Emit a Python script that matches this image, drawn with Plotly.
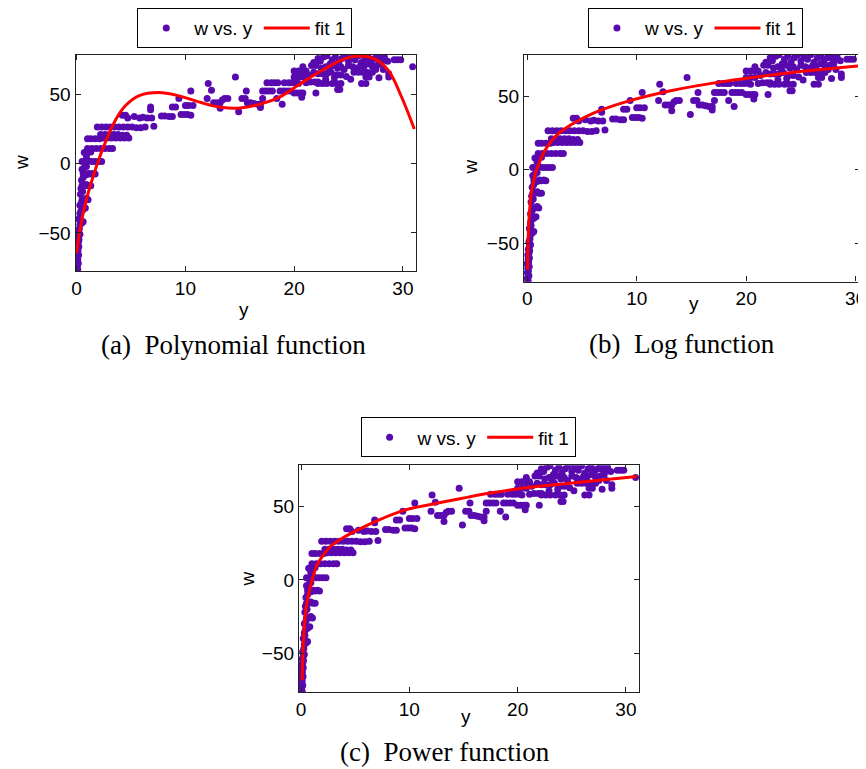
import plotly.graph_objects as go

# ---------------- data ----------------
# observations: (y, w) pairs, grouped by region of the scatter
pts_stack = [
    (0.0, -77), (0.05, -77), (0.1, -76), (0.0, -74), (0.08, -73), (0.15, -72),
    (0.02, -70), (0.1, -69), (0.05, -67), (0.18, -66), (0.0, -64), (0.12, -63),
    (0.08, -61), (0.2, -60), (0.05, -58), (0.15, -57), (0.22, -55), (0.1, -54),
    (0.2, -52), (0.3, -51), (0.15, -49), (0.25, -47), (0.3, -44), (0.45, -43),
    (0.6, -42), (0.2, -40), (0.35, -38), (0.3, -36), (0.4, -34), (0.6, -33),
    (0.8, -32), (0.3, -30), (0.45, -28), (0.5, -26), (0.7, -26), (0.9, -25),
    (1.05, -26), (0.35, -22), (0.55, -20), (0.4, -18), (0.5, -16), (0.7, -16),
    (0.9, -15), (1.1, -16), (1.3, -16), (0.45, -12), (0.6, -10),
]
pts_rows = [
    (0.6, -7), (0.9, -8), (1.1, -7), (1.3, -7.5), (1.5, -7), (1.7, -7.5),
    (0.5, -4), (0.7, -3), (0.9, -2),
    (0.5, 1.5), (0.8, 1.5), (1.1, 2), (1.4, 1.5), (1.7, 1.5), (2.0, 1.5), (2.3, 1.5),
    (0.7, 8), (1.0, 8), (1.3, 8.5), (0.9, 5),
    (1.0, 11), (1.4, 11), (1.8, 11), (2.2, 11), (2.6, 11), (3.0, 11), (3.3, 11),
    (1.0, 18), (1.3, 18), (1.7, 18), (2.1, 18), (2.4, 18.5), (2.8, 18.5),
    (3.2, 18.5), (3.6, 18.5), (4.0, 18.5), (4.4, 18.5), (4.8, 18.5),
    (2.2, 21), (2.6, 21), (3.0, 21), (3.4, 21), (3.8, 21), (4.2, 20.5), (4.6, 20.5),
    (1.9, 26.5), (2.3, 26.5), (2.7, 26.5), (3.1, 26.5), (3.5, 26.5), (3.9, 26.5),
    (4.3, 26.5), (4.7, 26.5), (5.1, 26.5), (5.5, 26), (5.9, 26), (6.3, 26.5), (7.1, 27),
]
pts_mid = [
    (4.2, 35), (4.5, 35), (4.7, 33), (5.3, 34), (5.8, 33), (6.1, 33.5), (6.5, 33),
    (6.9, 33), (7.8, 34.5), (8.1, 34.5), (8.5, 34), (8.8, 34), (9.6, 35.5),
    (9.9, 35.5), (10.2, 35.5), (10.5, 35), (6.8, 41), (6.8, 39), (8.8, 41),
    (9.1, 41), (10.0, 42), (10.3, 42), (10.7, 42), (9.4, 47), (12.0, 47),
    (12.6, 44), (12.9, 44), (13.2, 44), (13.4, 46), (13.2, 40), (13.6, 47),
    (13.9, 47), (10.5, 52.5), (12.1, 58), (12.4, 53), (14.6, 62.6), (14.9, 37.5),
    (15.2, 47), (15.5, 47), (15.6, 52.5), (15.7, 44), (16.0, 44), (16.3, 43.5),
    (16.6, 43), (16.9, 43), (16.9, 40.5), (17.1, 47), (17.1, 52.5), (17.4, 52.5),
    (17.7, 52.5), (18.0, 52.5), (17.5, 58.5), (17.9, 58.5), (18.2, 58.5),
    (18.5, 58.5), (18.4, 47), (18.9, 43), (18.7, 52.5), (19.0, 52.5), (19.3, 52.5),
    (19.6, 52.5), (19.1, 58.5), (19.5, 58.5), (19.8, 58.5), (20.2, 58.5),
    (20.0, 51), (20.3, 51), (20.6, 51), (20.8, 51), (20.7, 48), (20.4, 58),
    (21.1, 58.5), (21.5, 59), (21.9, 59), (22.2, 59), (22.0, 51),
]
pts_high = [
    (20.0, 62.6), (20.4, 62.6), (20.8, 62.6), (20.0, 67), (20.4, 67), (20.8, 67),
    (21.1, 67), (20.8, 70), (21.6, 71), (22.0, 71), (22.2, 76), (21.3, 64), (21.8, 66),
    (22.4, 74), (22.7, 77), (23.0, 78), (23.3, 72), (23.5, 75), (23.8, 77),
    (24.1, 73), (24.4, 76), (24.7, 78), (25.0, 74), (25.3, 77), (25.6, 75),
    (25.9, 78), (26.2, 73), (26.5, 76), (26.8, 77), (27.1, 74), (27.4, 76),
    (27.7, 78), (28.0, 75), (28.3, 77), (28.6, 74), (22.5, 69), (22.9, 70),
    (23.2, 68), (23.6, 71), (24.0, 69), (24.3, 70), (24.6, 68), (25.0, 71),
    (25.4, 70), (25.8, 69), (26.1, 71), (26.4, 70), (26.8, 72), (27.2, 70),
    (27.6, 71), (28.0, 72), (22.2, 65), (22.6, 65), (23.0, 65), (23.4, 66),
    (23.9, 64), (24.3, 64), (25.5, 66), (25.9, 66), (26.3, 66), (26.7, 66),
    (27.2, 66), (28.7, 65), (28.7, 62.6), (26.6, 62.6), (26.9, 62.6), (22.2, 58),
    (22.6, 58), (23.0, 58), (23.5, 58), (23.9, 58), (24.3, 58), (26.2, 58),
    (26.6, 58), (24.0, 53.6), (24.2, 53.6), (29.2, 75), (29.5, 75), (29.8, 75),
    (30.9, 70), (27.9, 75), (28.3, 75), (24.8, 63), (25.2, 61), (27.5, 68),
    (28.2, 68), (22.9, 61), (21.8, 73), (23.7, 62), (27.8, 62),
]

obs = pts_stack + pts_rows + pts_mid + pts_high
obs_y = [p[0] for p in obs]
obs_w = [p[1] for p in obs]

# fitted curves
poly_fit_y = [0, 0.3, 0.9, 1.8, 2.7, 3.6, 4.5, 5.7, 7.55, 9.4, 11.5, 13.3, 15.0,
              16.9, 18.7, 20.5, 22.7, 24.5, 26.0, 27.5, 28.7, 29.9, 31.05]
poly_fit_w = [-64.6, -48, -26, -2.4, 16.7, 32, 42, 49, 51.4, 49, 44, 40.7, 40.2,
              43, 48.3, 57.4, 68, 75.4, 77.8, 75.4, 67, 47.8, 25]

log_fit_y = [0.03, 0.05, 0.08, 0.12, 0.2, 0.36, 0.5, 0.8, 1.2, 1.57, 2.7, 4, 6, 9,
             13, 18, 24, 31]
log_fit_w = [-67.9, -57.7, -48.3, -39.5, -29, -16.5, -11, -1, 6.5, 12.5, 23.5, 30.5,
             38.3, 46.1, 53.5, 60.0, 65.8, 70.9]

pow_fit_y = [0.1, 0.15, 0.2, 0.3, 0.45, 0.76, 1.1, 1.5, 2.0, 2.73, 3.8, 5.2, 7.2,
             9.7, 12.3, 14.9, 17.6, 20.4, 23.4, 26.4, 31]
pow_fit_w = [-68.5, -55, -45, -32, -20, -7.5, 2, 10.6, 16.5, 23, 28.5, 34, 41,
             48, 52, 55.8, 59.5, 62.6, 65, 67.2, 70.6]

tick_y = [0, 10, 20, 30]
tick_w = [-50, 0, 50]

captions = ["(a)\u00a0 Polynomial function", "(b)\u00a0 Log function", "(c)\u00a0 Power function"]

# ---------------- figure ----------------
# the page body adds an 8 px margin, so the figure is drawn 8 px smaller
OFF = 8
W, H = 866 - OFF, 769 - OFF
def fx(px):
    return (px - OFF) / W
def fy(py):
    return 1 - (py - OFF) / H

DOT = "rgb(88,10,175)"
SANS = "Liberation Sans, Arial, sans-serif"
SERIF = "Liberation Serif, Times New Roman, serif"

fig = go.Figure()

fits = [(poly_fit_y, poly_fit_w), (log_fit_y, log_fit_w), (pow_fit_y, pow_fit_w)]
legends = ["legend", "legend2", "legend3"]
for i in range(3):
    sfx = "" if i == 0 else str(i + 1)
    fig.add_trace(go.Scatter(
        x=obs_y, y=obs_w, mode="markers", name="w vs. y",
        marker=dict(color=DOT, size=7, line=dict(width=0)),
        xaxis="x" + sfx, yaxis="y" + sfx, legend=legends[i]))
    fig.add_trace(go.Scatter(
        x=fits[i][0], y=fits[i][1], mode="lines", name="fit 1",
        line=dict(color="rgb(255,0,0)", width=3, shape="spline", smoothing=1.0),
        xaxis="x" + sfx, yaxis="y" + sfx, legend=legends[i]))

# panel geometry (pixels in the 866x769 picture)
panels = [
    dict(x0=72.3, x1=416.7, y0=50, y1=267.7, xr=[-0.1, 31.2], yr=[-77.5, 78.7]),
    dict(x0=526.0, x1=866.0, y0=50, y1=278.3, xr=[-0.3, 30.4], yr=[-76.0, 78.1]),
    dict(x0=298.3, x1=642.3, y0=463.3, y1=691.7, xr=[-0.2, 31.2], yr=[-76.7, 78.3]),
]

axis_common = dict(
    showgrid=False, zeroline=False, showline=True, linecolor="#222", linewidth=1.2,
    mirror="ticks", ticks="inside", ticklen=5, tickcolor="#222", tickwidth=1,
    tickfont=dict(family=SANS, size=19, color="black"),
    ticklabeloverflow="allow",
)

for i, p in enumerate(panels):
    sfx = "" if i == 0 else str(i + 1)
    fig.update_layout(**{
        "xaxis" + sfx: dict(axis_common, domain=[fx(p["x0"]), min(1.0, fx(p["x1"]))],
                            range=p["xr"], tickvals=tick_y,
                            anchor="y" + sfx),
        "yaxis" + sfx: dict(axis_common, domain=[fy(p["y1"]), fy(p["y0"])],
                            range=p["yr"], tickvals=tick_w,
                            anchor="x" + sfx),
    })

legend_common = dict(
    orientation="h", bgcolor="white", bordercolor="black", borderwidth=1,
    font=dict(family=SANS, size=19, color="black"),
    xanchor="center", yanchor="top", itemwidth=46, tracegroupgap=0,
)
fig.update_layout(
    legend=dict(legend_common, x=fx(243.5), y=fy(3)),
    legend2=dict(legend_common, x=fx(699.5), y=fy(3)),
    legend3=dict(legend_common, x=fx(469.5), y=fy(415)),
)

ann = []
def txt(text, px, py, size, family, angle=0):
    ann.append(dict(text=text, x=fx(px), y=fy(py), xref="paper", yref="paper",
                    showarrow=False, xanchor="center", yanchor="middle",
                    textangle=angle, font=dict(family=family, size=size, color="black")))

# axis titles
txt("w", 17, 158, 19, SANS, -90)
txt("y", 243, 306, 19, SANS)
txt("w", 472, 163, 19, SANS, -90)
txt("y", 698, 300, 19, SANS)
txt("w", 246, 578, 19, SANS, -90)
txt("y", 467, 716, 19, SANS)
# captions
txt(captions[0], 232, 342, 27, SERIF)
txt(captions[1], 686, 341, 27, SERIF)
txt(captions[2], 446, 752, 27, SERIF)

fig.update_layout(
    annotations=ann,
    width=W, height=H, margin=dict(l=0, r=0, t=0, b=0),
    paper_bgcolor="white", plot_bgcolor="white",
    showlegend=True,
)

fig.write_html("out.html")
